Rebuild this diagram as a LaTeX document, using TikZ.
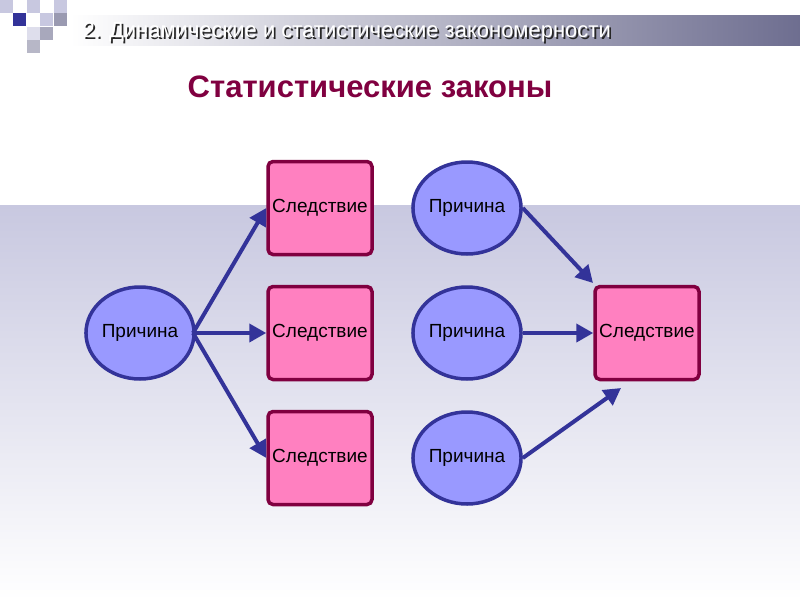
\documentclass[tikz,border=0pt]{standalone}
\usepackage{fontspec}
\setmainfont{Liberation Sans}
\usetikzlibrary{shapes.geometric,arrows.meta}
\definecolor{lawred}{HTML}{800040}
\definecolor{lawpink}{HTML}{FF80C0}
\definecolor{lawblue}{HTML}{9999FF}
\definecolor{lawnavy}{HTML}{333399}
\definecolor{lawbg}{HTML}{C8C8E0}
\definecolor{lawbar}{HTML}{6E6E90}
\begin{document}
\begin{tikzpicture}[
    x=1pt, y=-1pt,
    effect/.style={rectangle, draw=lawred, line width=3.5pt, rounded corners=5pt, fill=lawpink, minimum width=104pt, minimum height=93pt, inner sep=0pt, font=\fontsize{19}{22}\selectfont},
    cause/.style={ellipse, draw=lawnavy, line width=3.5pt, fill=lawblue, minimum width=102pt, minimum height=92pt, inner sep=0pt, font=\fontsize{19}{22}\selectfont},
    link/.style={draw=lawnavy, line width=4pt, -{Triangle[length=17pt,width=18pt]}}
  ]
    % background
    \useasboundingbox (0,0) rectangle (800,600);
    \fill[white] (0,0) rectangle (800,205);
    \shade[top color=lawbg, bottom color=white] (0,205) rectangle (800,600);
    % header
    \shade[left color=white, right color=lawbar] (70,15) rectangle (800,45);
    \foreach \x/\y/\c in {0/0/lawbg, 27/0/lawbg, 54/0/lawbg, 13/13/lawnavy, 40/13/lawbg, 54/13/lawbar!70, 40/27/lawbar!60, 27/40/lawbar!50, 27/27/lawbg!60}
      \fill[\c] (\x,\y) rectangle ++(13,13);
    \node[anchor=west, text=black!85, font=\fontsize{22}{26}\selectfont] at (80.8,33.8) {2. Динамические и статистические закономерности};
    \node[anchor=west, text=white, font=\fontsize{22}{26}\selectfont] (header) at (79,32) {2. Динамические и статистические закономерности};
    \node[text=lawred, font=\fontsize{31}{36}\selectfont\bfseries] (title) at (370,87) {Статистические законы};
    % nodes
    \node[cause] (c0) at (140,333) {Причина};
    \node[effect] (e1) at (320,208) {Следствие};
    \node[effect] (e2) at (320,333) {Следствие};
    \node[effect] (e3) at (320,458) {Следствие};
    \node[cause] (c1) at (467,208) {Причина};
    \node[cause] (c2) at (467,333) {Причина};
    \node[cause] (c3) at (467,458) {Причина};
    \node[effect] (e0) at (647,333) {Следствие};
    % arrows
    \coordinate (fork) at (193,333);
    \draw[link] (fork) -- (e1.west);
    \draw[link] (fork) -- (e2.west);
    \draw[link] (fork) -- (e3.west);
    \draw[link] (c1.east) -- (593,283);
    \draw[link] (c2.east) -- (e0.west);
    \draw[link] (c3.east) -- (621,388);
\end{tikzpicture}
\end{document}
